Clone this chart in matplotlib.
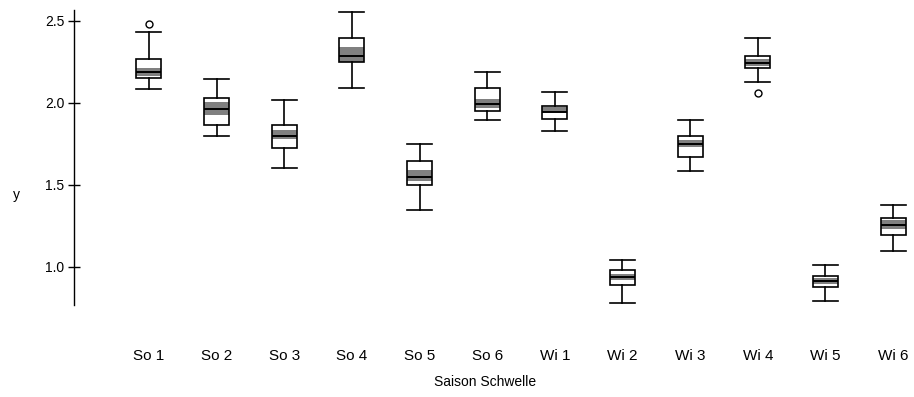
import matplotlib.pyplot as plt
import numpy as np

plt.rcParams['font.family'] = ['Liberation Sans', 'DejaVu Sans']

labels = ['So 1', 'So 2', 'So 3', 'So 4', 'So 5', 'So 6',
          'Wi 1', 'Wi 2', 'Wi 3', 'Wi 4', 'Wi 5', 'Wi 6']
whislo = [2.085, 1.799, 1.606, 2.093, 1.349, 1.896, 1.829, 0.782, 1.585, 2.126, 0.793, 1.099]
q1 = [2.150, 1.864, 1.724, 2.248, 1.500, 1.951, 1.902, 0.890, 1.671, 2.213, 0.878, 1.193]
med = [2.187, 1.963, 1.799, 2.288, 1.549, 1.994, 1.943, 0.937, 1.752, 2.241, 0.913, 1.254]
q3 = [2.270, 2.029, 1.866, 2.394, 1.646, 2.090, 1.984, 0.984, 1.799, 2.288, 0.943, 1.301]
whishi = [2.435, 2.146, 2.020, 2.555, 1.752, 2.191, 2.069, 1.041, 1.896, 2.398, 1.012, 1.378]
ci_lo = [2.165, 1.927, 1.779, 2.250, 1.524, 1.968, 1.943, 0.919, 1.730, 2.227, 0.894, 1.232]
ci_hi = [2.211, 2.008, 1.835, 2.340, 1.591, 2.024, 1.974, 0.957, 1.774, 2.266, 0.935, 1.287]
outliers = [[2.48], [], [], [], [], [], [], [], [], [2.059], [], []]

pos = np.arange(1, len(labels) + 1)
w = 0.37

stats = []
for i in range(len(labels)):
    stats.append(dict(label=labels[i], whislo=whislo[i], q1=q1[i], med=med[i],
                      q3=q3[i], whishi=whishi[i], fliers=outliers[i]))

fig = plt.figure(figsize=(9.14, 3.97), dpi=100)
ax = fig.add_axes([74 / 914, 92 / 397, 836 / 914, 295 / 397])

# grey band around the median
ax.bar(pos, np.array(ci_hi) - np.array(ci_lo), bottom=ci_lo, width=w,
       color='#808080', zorder=1)

ax.bxp(stats, positions=pos, widths=w, capwidths=w, patch_artist=True,
       boxprops=dict(facecolor='none', edgecolor='black', linewidth=1.2),
       medianprops=dict(color='black', linewidth=1.4),
       whiskerprops=dict(color='black', linewidth=1.2),
       capprops=dict(color='black', linewidth=1.2),
       flierprops=dict(marker='o', markerfacecolor='none', markeredgecolor='black',
                       markersize=5, markeredgewidth=1.0),
       zorder=2)

ax.set_xlim(1 - 75 / 67.7, 12.25)
ax.set_ylim(0.768, 2.567)
ax.set_yticks([1.0, 1.5, 2.0, 2.5])
ax.set_yticklabels(['1.0', '1.5', '2.0', '2.5'])
ax.tick_params(axis='y', direction='inout', length=8, width=1.0, labelsize=10, pad=3)
ax.tick_params(axis='x', length=0, labelsize=11, pad=32)

for s in ['top', 'right', 'bottom']:
    ax.spines[s].set_visible(False)
ax.spines['left'].set_linewidth(1.0)

ax.set_xlabel('Saison Schwelle', fontsize=10)
ax.xaxis.label.set_va('center')
ax.xaxis.set_label_coords(0.4916, -0.261)
ax.set_ylabel('y', fontsize=10, rotation=0)
ax.yaxis.label.set_va('center')
ax.yaxis.set_label_coords(-0.069, 0.373)

plt.savefig('out.png', dpi=100)
